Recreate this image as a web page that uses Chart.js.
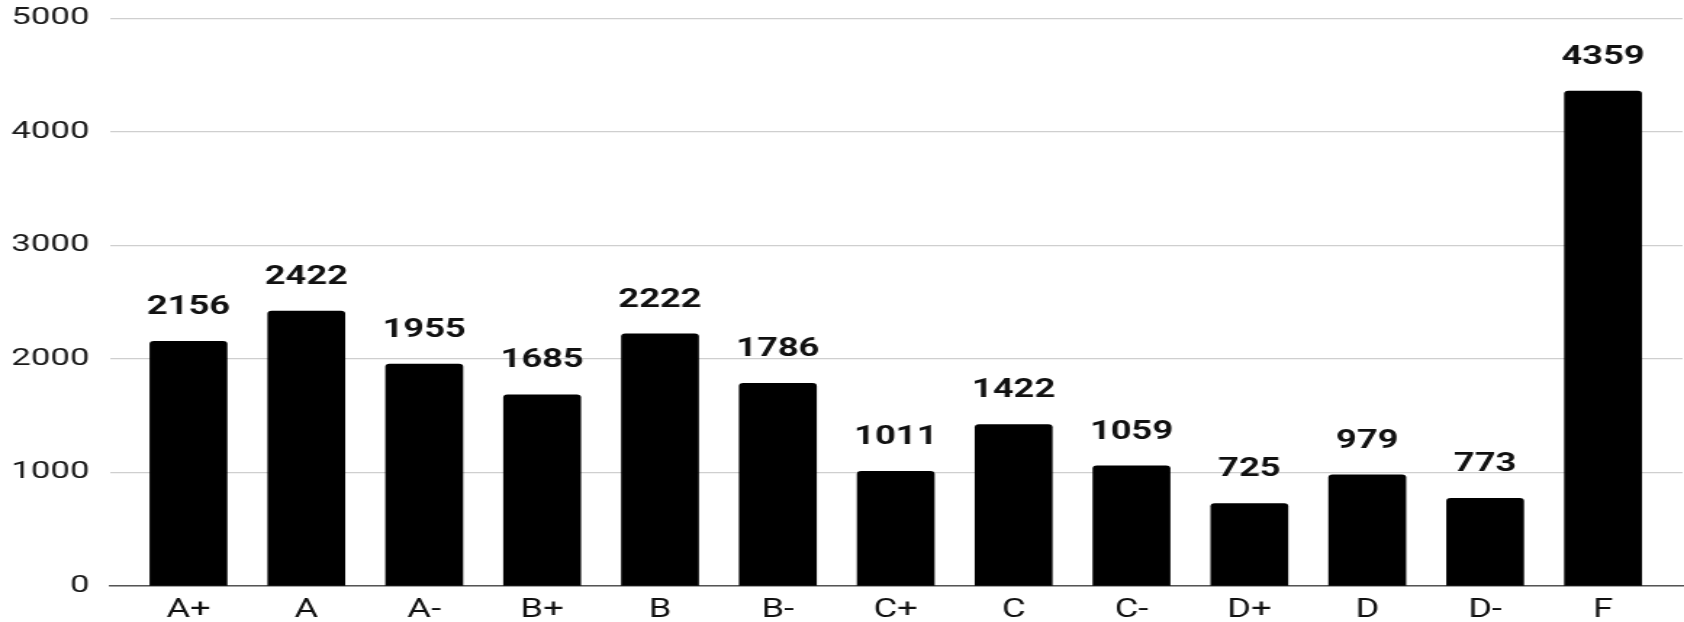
<!DOCTYPE html>
<html>
<head>
<meta charset="utf-8">
<script src="https://cdn.jsdelivr.net/npm/chart.js@4/dist/chart.umd.min.js"></script>
<style>
  html, body { margin: 0; padding: 0; background: #fff; overflow: hidden; }
  #wrap { width: 1684px; height: 622px; overflow: hidden; }
  /* the chart is laid out narrow and widened horizontally */
  #chart { transform-origin: 0 0; transform: scaleX(1.4505); display: block; margin-top: -10px; }
</style>
</head>
<body>
<div id="wrap"><canvas id="chart" width="1161" height="632"></canvas></div>
<script>
const grades = ['A+', 'A', 'A-', 'B+', 'B', 'B-', 'C+', 'C', 'C-', 'D+', 'D', 'D-', 'F'];
const counts = [2156, 2422, 1955, 1685, 2222, 1786, 1011, 1422, 1059, 725, 979, 773, 4359];
const yTicks = [0, 1000, 2000, 3000, 4000, 5000];

const FONT = 'Roboto, "Liberation Sans", Arial, sans-serif';

// value printed above each bar
const barValues = {
  id: 'barValues',
  afterDatasetsDraw(chart) {
    const ctx = chart.ctx;
    const meta = chart.getDatasetMeta(0);
    ctx.save();
    ctx.font = 'bold 25px ' + FONT;
    ctx.fillStyle = '#111';
    ctx.textAlign = 'center';
    ctx.textBaseline = 'middle';
    meta.data.forEach((bar, i) => {
      ctx.fillText(String(counts[i]), bar.x, bar.y - 33.5);
    });
    ctx.restore();
  }
};

new Chart(document.getElementById('chart'), {
  type: 'bar',
  data: {
    datasets: [{
      data: counts.map((v, i) => ({ x: i, y: v })),
      backgroundColor: '#000',
      borderRadius: { topLeft: 3, topRight: 3 },
      borderSkipped: 'bottom',
      barThickness: 53
    }]
  },
  options: {
    responsive: false,
    animation: false,
    devicePixelRatio: 1,
    layout: { padding: { top: 9, right: 1, bottom: 0, left: 0 } },
    plugins: { legend: { display: false }, tooltip: { enabled: false } },
    scales: {
      x: {
        type: 'linear',
        offset: false,
        min: -0.666,
        max: 12.675,
        afterBuildTicks(scale) { scale.ticks = grades.map((_, i) => ({ value: i })); },
        afterFit(scale) { scale.height = 36; },
        grid: { display: false, drawTicks: false },
        border: { display: true, color: '#555', width: 1.5 },
        ticks: {
          autoSkip: false,
          maxRotation: 0,
          padding: 10,
          color: '#111',
          font: { family: FONT, size: 25 },
          callback: (v) => grades[v] ?? ''
        }
      },
      y: {
        min: 0,
        max: 5000,
        afterBuildTicks(scale) { scale.ticks = yTicks.map(v => ({ value: v })); },
        afterFit(scale) { scale.width = 75.8; },
        grid: { color: '#cfcfcf', lineWidth: 1.2, drawTicks: false },
        border: { display: false },
        ticks: {
          padding: 14,
          color: '#1a1a1a',
          font: { family: FONT, size: 24 },
          callback: (v) => String(v)
        }
      }
    }
  },
  plugins: [barValues]
});
</script>
</body>
</html>
